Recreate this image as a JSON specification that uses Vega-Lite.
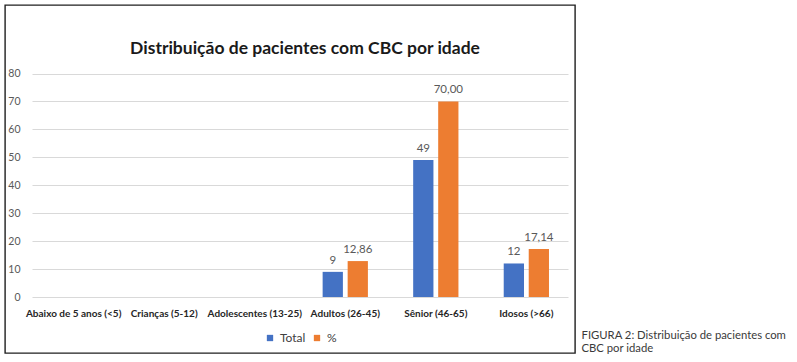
{
  "$schema": "https://vega.github.io/schema/vega-lite/v6.json",
  "autosize": "none",
  "padding": {"left": 5, "top": 5, "right": 222, "bottom": 9},
  "width": 570,
  "height": 348,
  "background": "white",
  "config": {
    "view": {"stroke": "#1f1f1f", "strokeWidth": 1.4},
    "font": "Lato",
    "locale": {
      "number": {"decimal": ",", "thousands": ".", "grouping": [3], "currency": ["R$", ""]},
      "time": {"dateTime": "%A, %e de %B de %Y. %X", "date": "%d/%m/%Y", "time": "%H:%M:%S", "periods": ["AM", "PM"], "days": ["Domingo", "Segunda", "Terça", "Quarta", "Quinta", "Sexta", "Sábado"], "shortDays": ["Dom", "Seg", "Ter", "Qua", "Qui", "Sex", "Sáb"], "months": ["Janeiro", "Fevereiro", "Março", "Abril", "Maio", "Junho", "Julho", "Agosto", "Setembro", "Outubro", "Novembro", "Dezembro"], "shortMonths": ["Jan", "Fev", "Mar", "Abr", "Mai", "Jun", "Jul", "Ago", "Set", "Out", "Nov", "Dez"]}
    }
  },
  "title": {
    "text": "Distribuição de pacientes com CBC por idade",
    "anchor": "middle",
    "orient": "top",
    "offset": -48,
    "baseline": "alphabetic",
    "dx": 15,
    "dy": 18,
    "font": "Lato",
    "fontSize": 17.5,
    "fontWeight": "bold",
    "color": "#1a1a1a"
  },
  "data": {
    "values": [
      {"faixa": "Abaixo de 5 anos (<5)", "serie": "Total", "valor": 0},
      {"faixa": "Abaixo de 5 anos (<5)", "serie": "%", "valor": 0},
      {"faixa": "Crianças (5-12)", "serie": "Total", "valor": 0},
      {"faixa": "Crianças (5-12)", "serie": "%", "valor": 0},
      {"faixa": "Adolescentes (13-25)", "serie": "Total", "valor": 0},
      {"faixa": "Adolescentes (13-25)", "serie": "%", "valor": 0},
      {"faixa": "Adultos (26-45)", "serie": "Total", "valor": 9},
      {"faixa": "Adultos (26-45)", "serie": "%", "valor": 12.86},
      {"faixa": "Sênior (46-65)", "serie": "Total", "valor": 49},
      {"faixa": "Sênior (46-65)", "serie": "%", "valor": 70.0},
      {"faixa": "Idosos (>66)", "serie": "Total", "valor": 12},
      {"faixa": "Idosos (>66)", "serie": "%", "valor": 17.14}
    ]
  },
  "encoding": {
    "x": {
      "field": "faixa",
      "type": "nominal",
      "sort": null,
      "scale": {"range": [27, 563], "paddingInner": 0.5, "paddingOuter": 0.21},
      "axis": {
        "title": ["FIGURA 2: Distribuição de pacientes com", "CBC por idade"],
        "titleX": 576,
        "titleY": 41,
        "titleAlign": "left",
        "titleAnchor": "start",
        "titleBaseline": "alphabetic",
        "titleFont": "Lato",
        "titleFontSize": 11.3,
        "titleFontWeight": "normal",
        "titleColor": "#3a3a3a",
        "titleLineHeight": 13,
        "offset": -56,
        "domain": false,
        "ticks": false,
        "grid": false,
        "labelAngle": 0,
        "labelPadding": 11,
        "labelBaseline": "top",
        "labelFont": "Lato",
        "labelFontSize": 10,
        "labelFontWeight": "bold",
        "labelColor": "#262626"
      }
    },
    "xOffset": {
      "field": "serie",
      "type": "nominal",
      "sort": ["Total", "%"],
      "scale": {"paddingInner": 0.19, "paddingOuter": 0}
    },
    "y": {
      "field": "valor",
      "type": "quantitative",
      "scale": {"domain": [0, 80], "range": [292, 68.5], "nice": false, "zero": true},
      "axis": {
        "title": null,
        "values": [0, 10, 20, 30, 40, 50, 60, 70, 80],
        "offset": -20,
        "domain": false,
        "ticks": false,
        "labelPadding": 5,
        "labelFont": "Lato",
        "labelFontSize": 10.5,
        "labelColor": "#595959",
        "gridColor": "#d9d9d9",
        "gridWidth": 1
      }
    }
  },
  "layer": [
    {
      "mark": {"type": "bar"},
      "encoding": {
        "color": {
          "field": "serie",
          "type": "nominal",
          "sort": ["Total", "%"],
          "scale": {"domain": ["Total", "%"], "range": ["#4472C4", "#ED7D31"]},
          "legend": {
            "title": null,
            "orient": "none",
            "direction": "horizontal",
            "legendX": 259,
            "legendY": 327,
            "symbolType": "square",
            "symbolSize": 40,
            "symbolStrokeWidth": 0,
            "labelFont": "Lato",
            "labelFontSize": 12,
            "labelColor": "#404040",
            "labelOffset": 4,
            "columnPadding": 5
          }
        }
      }
    },
    {
      "transform": [{"filter": "datum.serie === 'Total' && datum.valor > 0"}],
      "mark": {"type": "text", "baseline": "alphabetic", "dy": -8, "font": "Lato", "fontSize": 11.5, "color": "#595959"},
      "encoding": {"text": {"field": "valor", "type": "quantitative", "format": "d"}}
    },
    {
      "transform": [{"filter": "datum.serie === '%' && datum.valor > 0"}],
      "mark": {"type": "text", "baseline": "alphabetic", "dy": -8, "font": "Lato", "fontSize": 11.5, "color": "#595959"},
      "encoding": {"text": {"field": "valor", "type": "quantitative", "format": ".2f"}}
    }
  ]
}
